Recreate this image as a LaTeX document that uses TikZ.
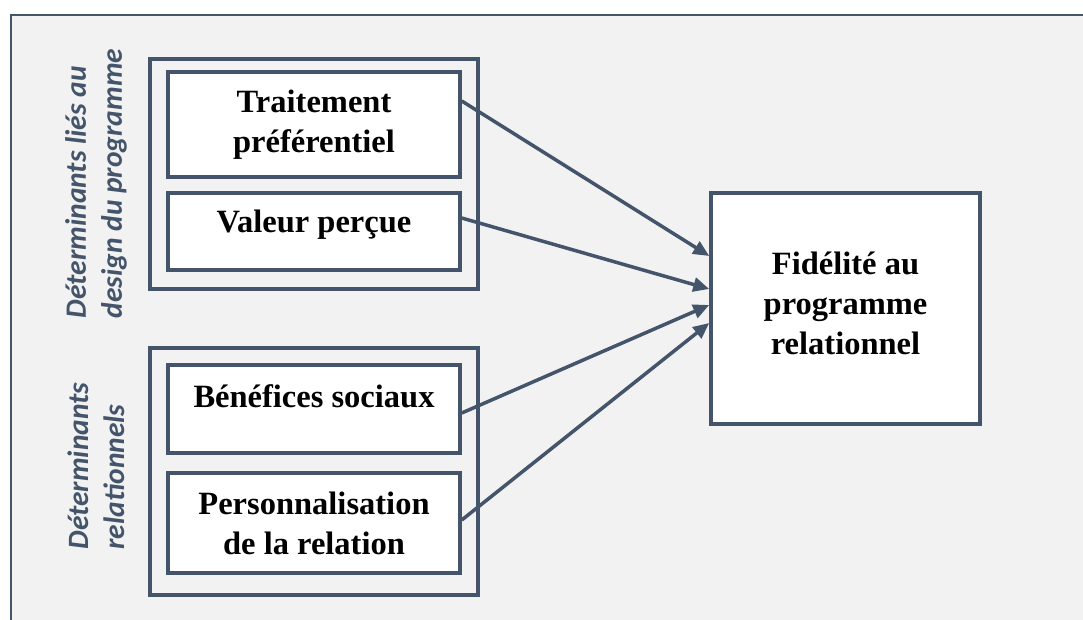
\documentclass[tikz,border=0pt]{standalone}
\usepackage{fontspec}
\setmainfont{Liberation Serif}
\newfontfamily\labelfont{Carlito}
\usetikzlibrary{arrows.meta}
\definecolor{slate}{HTML}{44546A}
\definecolor{panel}{HTML}{F2F2F2}

\begin{document}
\begin{tikzpicture}[x=1pt, y=-1pt, line width=3.5pt,
		box/.style={draw=slate, fill=white, align=center, inner sep=0pt,
			font=\bfseries\fontsize{32.5}{40}\selectfont},
		side/.style={rotate=90, align=left, text=slate, inner sep=0pt,
			font=\labelfont\bfseries\itshape\fontsize{29.5}{36}\selectfont},
		link/.style={draw=slate, -{Triangle[length=16pt, width=14pt]}}]
		\useasboundingbox (0,0) rectangle (1083,620);
		\clip (0,0) rectangle (1083,620);
		\fill[white] (0,0) rectangle (1083,620);
		\draw[slate, fill=panel, line width=2.5pt] (11,15) rectangle (1100,640);
		% groupes
		\draw[slate] (150,59) rectangle (478,289);
		\draw[slate] (150,348) rectangle (478,595);
		\node[side] (design) at (96,183.5) {Déterminants liés au\\design du programme};
		\node[side] (rel) at (96,466) {Déterminants\\relationnels};
		% déterminants
		\node[box, minimum width=292pt, minimum height=105pt] (trait) at (314,124.5) {Traitement\\préférentiel};
		\node[box, minimum width=292pt, minimum height=77pt, text height=22pt, text depth=19pt] (valeur) at (314,231.5) {Valeur perçue};
		\node[box, minimum width=292pt, minimum height=88pt, text height=22pt, text depth=26pt] (benef) at (314,409) {Bénéfices sociaux};
		\node[box, minimum width=292pt, minimum height=100pt] (perso) at (314,523) {Personnalisation\\de la relation};
		% fidélité
		\node[box, minimum width=269pt, minimum height=231pt, text depth=10pt] (fid) at (845.5,308.5) {Fidélité au\\programme\\relationnel};
		\draw[link] ([yshift=23.5pt]trait.east) -- ([yshift=52.5pt]fid.west);
		\draw[link] ([yshift=13.5pt]valeur.east) -- ([yshift=19.5pt]fid.west);
		\draw[link] ([yshift=-4pt]benef.east) -- ([yshift=3.5pt]fid.west);
		\draw[link] ([yshift=3pt]perso.east) -- ([yshift=-14.5pt]fid.west);
	\end{tikzpicture}
\end{document}
